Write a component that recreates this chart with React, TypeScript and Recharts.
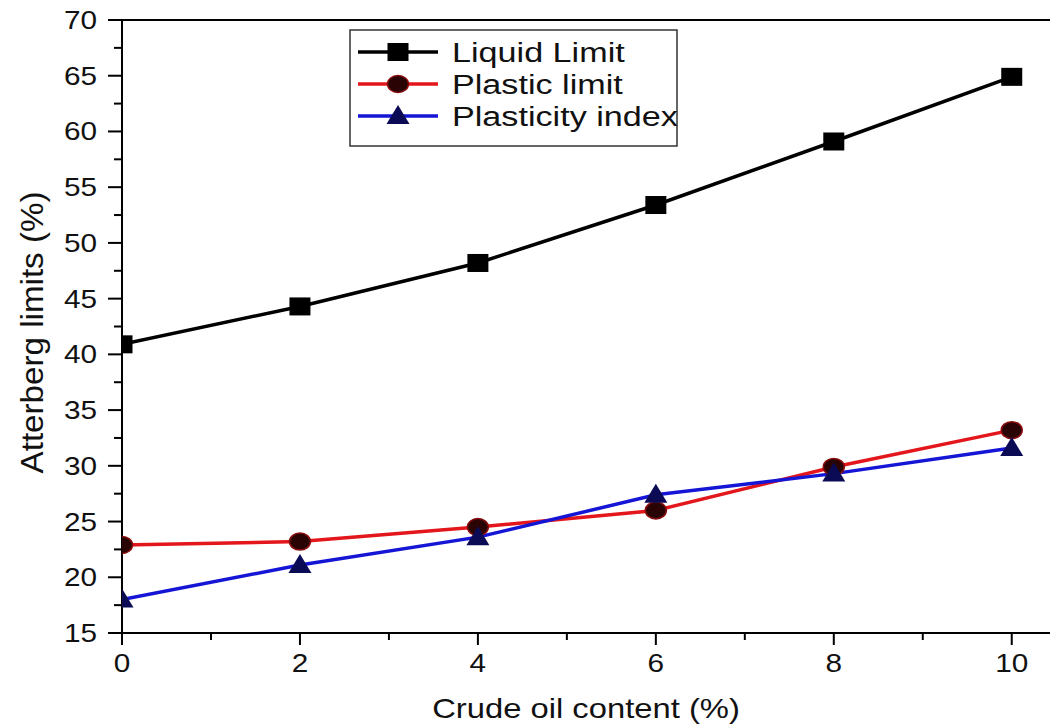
import React from "react";
import { LineChart, Line, XAxis, YAxis, ReferenceLine, Label } from "recharts";

// Crude oil content (%) and measured Atterberg limits (%)
const oilContent = [0, 2, 4, 6, 8, 10];
const liquidLimit = [40.9, 44.3, 48.2, 53.4, 59.1, 64.9];
const plasticLimit = [22.9, 23.2, 24.5, 26.0, 29.9, 33.2];
const plasticityIndex = [18.0, 21.1, 23.6, 27.4, 29.3, 31.6];

const xTicks = [0, 1, 2, 3, 4, 5, 6, 7, 8, 9, 10];
const yTicks = [15, 17.5, 20, 22.5, 25, 27.5, 30, 32.5, 35, 37.5, 40, 42.5, 45, 47.5, 50, 52.5, 55, 57.5, 60, 62.5, 65, 67.5, 70];

const data = oilContent.map((x, i) => ({
  x,
  liquid: liquidLimit[i],
  plastic: plasticLimit[i],
  index: plasticityIndex[i],
}));

const FONT = "'Liberation Sans', Arial, Helvetica, sans-serif";
const RED = "#e3161b";
const BLUE = "#1515d6";

const squareDot = (p: any) => (
  <rect key={`sq-${p.index}`} x={p.cx - 10.5} y={p.cy - 9} width={21} height={18} fill="#000" />
);
const circleDot = (p: any) => (
  <ellipse key={`ci-${p.index}`} cx={p.cx} cy={p.cy} rx={10.5} ry={8.5} fill="#2a0404" stroke="#8a0c0c" strokeWidth={1.5} />
);
const triangleDot = (p: any) => (
  <polygon
    key={`tr-${p.index}`}
    points={`${p.cx},${p.cy - 11} ${p.cx - 11.5},${p.cy + 8} ${p.cx + 11.5},${p.cy + 8}`}
    fill="#0b0b55"
  />
);

const XTick = (props: any) => {
  const { x, y, payload } = props;
  const major = payload.value % 2 === 0;
  return (
    <g>
      <line x1={x} x2={x} y1={y} y2={y + (major ? 12 : 7)} stroke="#000" strokeWidth={2} />
      {major && (
        <text
          transform={`translate(${x},${y + 39}) scale(1.19,1)`}
          textAnchor="middle"
          fontSize={25}
          fontFamily={FONT}
          fill="#111"
        >
          {payload.value}
        </text>
      )}
    </g>
  );
};

const YTick = (props: any) => {
  const { x, y, payload } = props;
  const major = payload.value % 5 === 0;
  return (
    <g>
      <line x1={x} x2={x - (major ? 14 : 8)} y1={y} y2={y} stroke="#000" strokeWidth={2} />
      {major && (
        <text
          transform={`translate(${x - 25},${y + 9}) scale(1.19,1)`}
          textAnchor="end"
          fontSize={25}
          fontFamily={FONT}
          fill="#111"
        >
          {payload.value}
        </text>
      )}
    </g>
  );
};

const legendItems = [
  { name: "Liquid Limit", color: "#000", marker: "square" },
  { name: "Plastic limit", color: RED, marker: "circle" },
  { name: "Plasticity index", color: BLUE, marker: "triangle" },
];

const LegendBox = () => (
  <svg width={1051} height={726} style={{ position: "absolute", left: 0, top: 0, pointerEvents: "none" }}>
    <rect x={350} y={30} width={327} height={116} fill="#fff" stroke="#333" strokeWidth={1.5} />
    {legendItems.map((it, i) => {
      const cy = 52 + i * 32;
      const cx = 398;
      return (
        <g key={it.name}>
          <line x1={358} x2={438} y1={cy} y2={cy} stroke={it.color} strokeWidth={3.5} />
          {it.marker === "square" && squareDot({ cx, cy, index: "lg" })}
          {it.marker === "circle" && circleDot({ cx, cy, index: "lg" })}
          {it.marker === "triangle" && triangleDot({ cx, cy, index: "lg" })}
          <text
            transform={`translate(452,${cy + 10}) scale(1.22,1)`}
            fontSize={28}
            fontFamily={FONT}
            fill="#111"
          >
            {it.name}
          </text>
        </g>
      );
    })}
  </svg>
);

export default function App() {
  return (
    <div style={{ position: "absolute", left: 0, top: 0, width: 1051, height: 726, background: "#fff" }}>
      <LineChart width={1051} height={726} data={data} margin={{ top: 20, right: 1, bottom: 0, left: 0 }}>
        <XAxis
          dataKey="x"
          type="number"
          domain={[0, 10.43]}
          ticks={xTicks}
          allowDataOverflow
          height={93}
          axisLine={{ stroke: "#000", strokeWidth: 2 }}
          tickLine={false}
          tickSize={0}
          tickMargin={0}
          tick={<XTick />}
          interval={0}
        >
          <Label
            content={(p: any) => {
              const vb = p.viewBox;
              return (
                <text
                  transform={`translate(${vb.x + vb.width / 2},${vb.y + 85}) scale(1.17,1)`}
                  textAnchor="middle"
                  fontSize={28}
                  fontFamily={FONT}
                  fill="#111"
                >
                  Crude oil content (%)
                </text>
              );
            }}
          />
        </XAxis>
        <YAxis
          type="number"
          domain={[15, 70]}
          ticks={yTicks}
          width={122}
          axisLine={{ stroke: "#000", strokeWidth: 2 }}
          tickLine={false}
          tickSize={0}
          tickMargin={0}
          tick={<YTick />}
          interval={0}
        >
          <Label
            content={(p: any) => {
              const vb = p.viewBox;
              return (
                <text
                  transform={`translate(43,${vb.y + vb.height / 2 + 6}) rotate(-90) scale(1.07,1)`}
                  textAnchor="middle"
                  fontSize={31}
                  fontFamily={FONT}
                  fill="#111"
                >
                  Atterberg limits (%)
                </text>
              );
            }}
          />
        </YAxis>
        <ReferenceLine y={70} stroke="#000" strokeWidth={2} />
        <Line dataKey="liquid" stroke="#000" strokeWidth={3.5} dot={squareDot} activeDot={false} isAnimationActive={false} />
        <Line dataKey="plastic" stroke={RED} strokeWidth={3.5} dot={circleDot} activeDot={false} isAnimationActive={false} />
        <Line dataKey="index" stroke={BLUE} strokeWidth={3.5} dot={triangleDot} activeDot={false} isAnimationActive={false} />
      </LineChart>
      <LegendBox />
    </div>
  );
}
